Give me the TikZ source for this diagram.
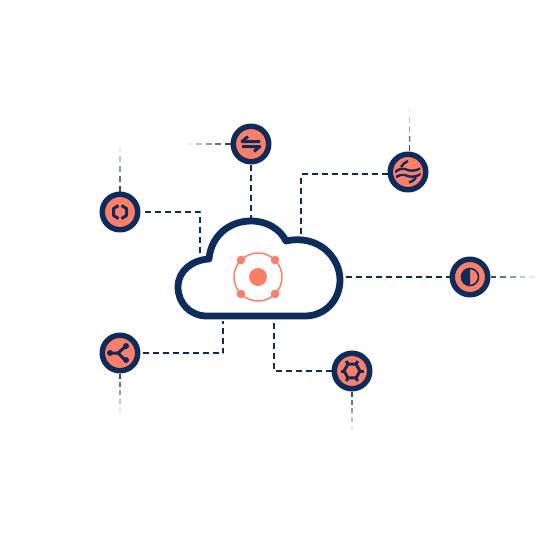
\documentclass[tikz,border=0pt]{standalone}
\usetikzlibrary{calc}
\definecolor{navy}{HTML}{0B2C5C}
\definecolor{salmon}{HTML}{FF7F66}
\tikzset{
	badge/.style={circle, draw=navy, fill=salmon, line width=5.5pt, minimum size=35.5pt, inner sep=0pt},
	link/.style={navy, line width=1.5pt, dash pattern=on 6pt off 4pt},
	glyph/.style={navy, line width=3pt},
	dot/.style={fill=salmon}
}
\newcommand{\fadelink}[2]{%
	\foreach \i in {0,...,4}{
		\pgfmathsetmacro{\ta}{\i/4.6}
		\pgfmathsetmacro{\tb}{(\i+0.6)/4.6}
		\pgfmathsetmacro{\op}{0.85-\i*0.19}
		\draw[navy, line width=1.5pt, opacity=\op] ($(#1)!\ta!(#2)$)--($(#1)!\tb!(#2)$);
	}}
\begin{document}
\begin{tikzpicture}[x=1pt, y=-1pt, line join=round, line cap=butt]
	\useasboundingbox (0,0) rectangle (539,549);
	\path
	(251,221) coordinate (cloudtop)
	(200,258) coordinate (cloudleft)
	(301,239) coordinate (cloudhigh)
	(346,277) coordinate (cloudright)
	(223,321) coordinate (cloudlow)
	(274,321) coordinate (cloudbase)
	(258,277) coordinate (core)
	(187,144) coordinate (swapend)
	(409.5,151) coordinate (wavetop)
	(409.5,108) coordinate (waveend)
	(120,146) coordinate (ringend)
	(535,277) coordinate (halfend)
	(120,412) coordinate (forkend)
	(352,430) coordinate (hexend);
	\node[badge] (swap) at (251,144) {};
	\node[badge] (wave) at (408,172) {};
	\node[badge] (ring) at (120,212) {};
	\node[badge] (half) at (470,277) {};
	\node[badge] (fork) at (120,353) {};
	\node[badge] (hex) at (352,371) {};
	% connectors
	\draw[link] (swap)--(cloudtop);
	\draw[link] (ring.east) ++(4,0)-|(cloudleft);
	\draw[link] (wave.west |- 0,174)-|(cloudhigh);
	\draw[link] (cloudright)--(half);
	\draw[link] (fork.east) ++(2,0)-|(cloudlow);
	\draw[link] (hex.west)-|(cloudbase);
	\fadelink{swap.west}{swapend}
	\fadelink{wavetop}{waveend}
	\fadelink{ring.north}{ringend}
	\fadelink{half.east}{halfend}
	\fadelink{fork.south}{forkend}
	\fadelink{hex.south}{hexend}
	% cloud
	\draw[navy, line width=6.8pt] (207,316) .. controls (190,316) and (178,303) .. (178,287)
	.. controls (178,271) and (192,260) .. (209,259)
	.. controls (211,236) and (229,221) .. (251,221)
	.. controls (267,221) and (280,229) .. (286,241)
	.. controls (318,234) and (340,257) .. (340,280)
	.. controls (340,300) and (325,316) .. (305,316) -- cycle;
	\draw[salmon, line width=1.5pt] (core) circle (24);
	\fill[dot] (core) circle (9);
	\foreach \i/\j in {-17/-17,17/-17,-17/17,17/17}{\fill[dot] ($(core)+(\i,\j)$) circle (4.3);}
	% swap icon
	\draw[glyph] (swap) ++(9,-2.5)--++(-18,0)--++(6,-5);
	\draw[glyph] (swap) ++(-9,2.5)--++(18,0)--++(-6,5);
	% wave icon
	\begin{scope}[shift={(wave)}]
		\clip (0,0) circle (13);
		\draw[glyph, line width=2.4pt] (-7,-5) .. controls (-5,-8) and (-3,-10) .. (0,-11);
		\draw[glyph, line width=2.4pt] (-13,0) .. controls (-9,-3) and (-6,-4) .. (-3,-3) .. controls (1,-1) and (6,0) .. (13,-4);
		\draw[glyph, line width=2.4pt] (-13,6) .. controls (-9,3) and (-6,2) .. (-3,3) .. controls (1,5) and (6,6) .. (13,2);
		\draw[glyph, line width=2.4pt] (1,10.5) .. controls (4,10) and (6,8) .. (8,5.5);
	\end{scope}
	% ring icon
	\draw[glyph] (ring) ++(-1.5,-6.5)--++(-5,3)--++(0,7)--++(5,3);
	\draw[glyph] (ring) ++(1.5,-6.5)--++(5,3)--++(0,7)--++(-5,3);
	% half icon
	\draw[navy, line width=1.6pt] (half) circle (8.5);
	\fill[navy] (half) ++(0,-9) arc(-90:-270:9)--cycle;
	% fork icon
	\draw[glyph] (fork) ++(-10,0)--++(8,0)--++(7,-6);
	\draw[glyph] (fork) ++(-2,0)--++(7,7);
	\foreach \i/\j in {-10/0,6/-7,6/7}{\fill[navy] ($(fork)+(\i,\j)$) circle (3);}
	% hex icon
	\draw[glyph] (hex) +(0:8)--+(60:8)--+(120:8)--+(180:8)--+(240:8)--+(300:8)--cycle;
	\foreach \a in {0,60,...,300}{\draw[glyph] (hex) +(\a:8)--+(\a:11.5);}
\end{tikzpicture}
\end{document}
